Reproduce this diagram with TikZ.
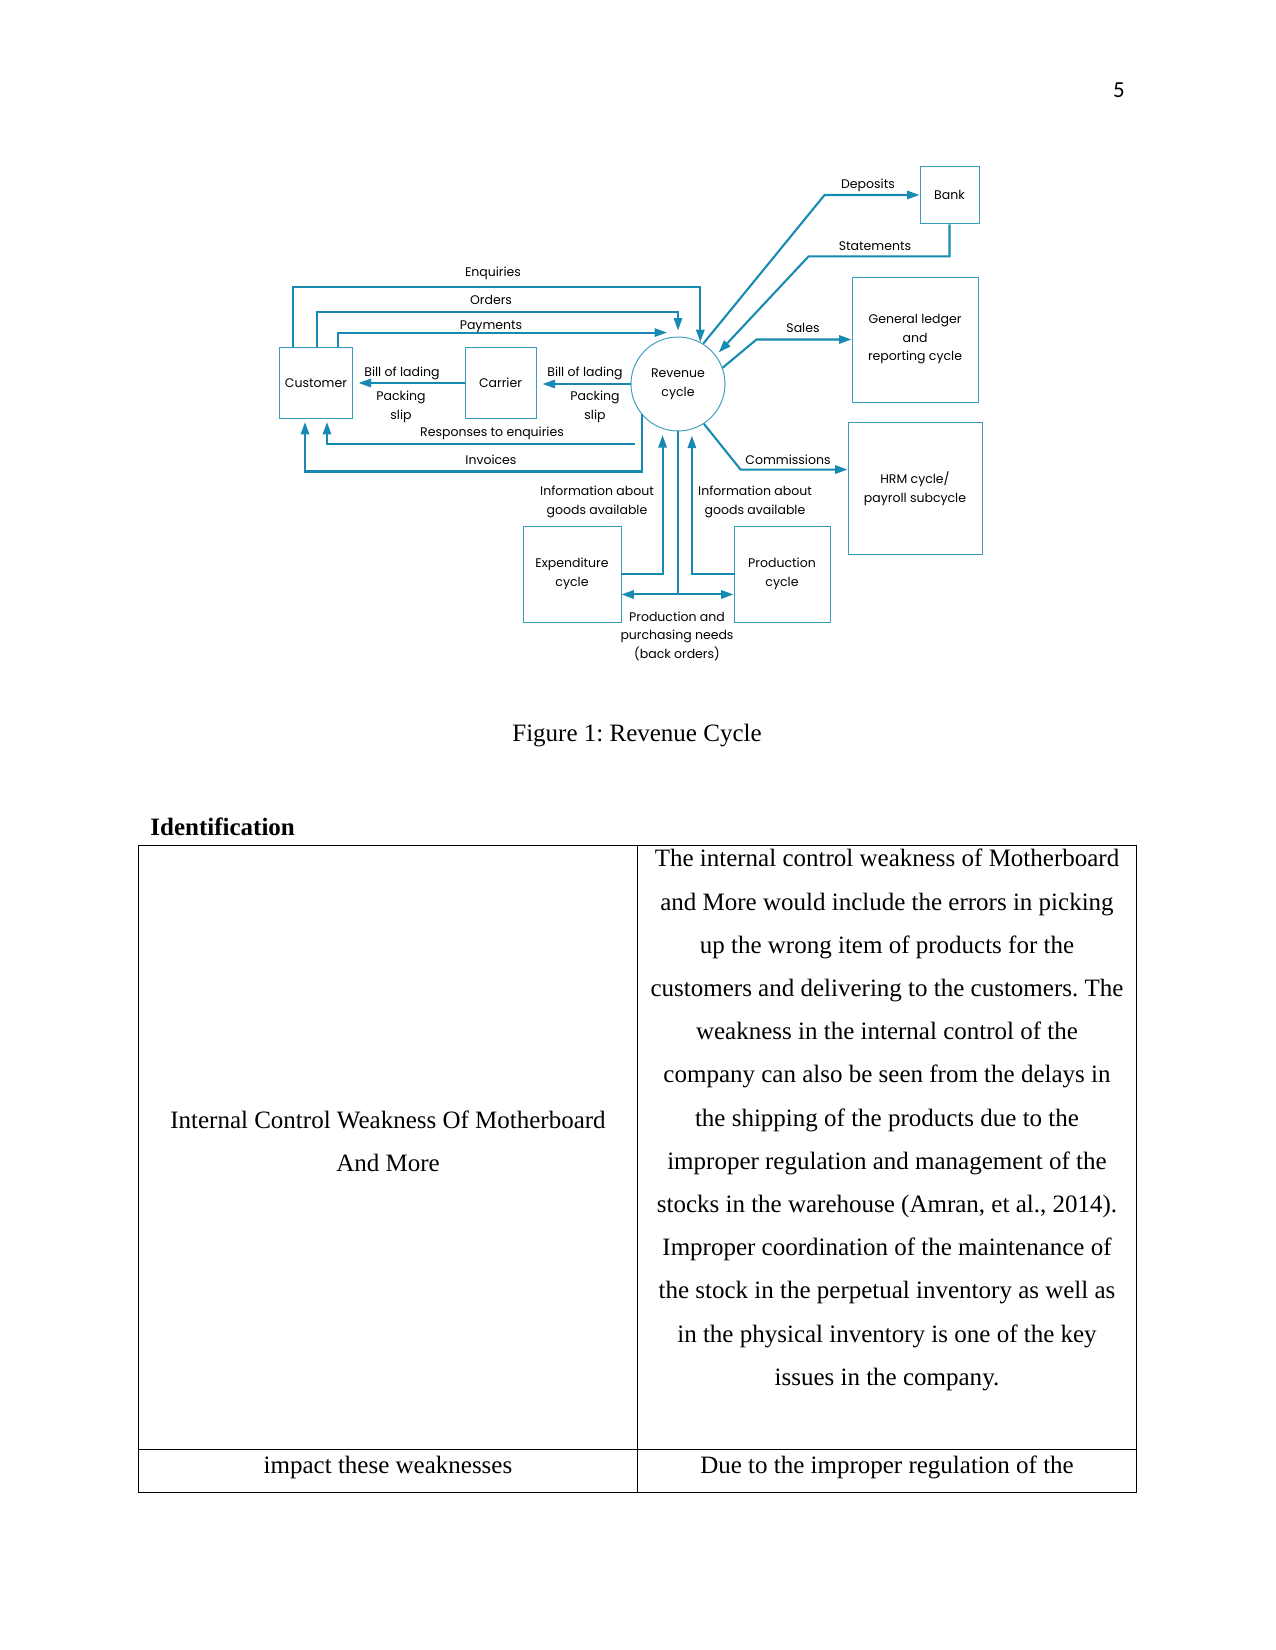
\documentclass[tikz,border=0pt]{standalone}
\usepackage{fontspec}
\setmainfont{Liberation Serif}
\newfontfamily\cycfont{Poppins}
\newfontfamily\numfont{Carlito}
\usetikzlibrary{arrows.meta,calc}
\definecolor{cycblue}{RGB}{22,138,178}
\frenchspacing

\begin{document}
\begin{tikzpicture}[x=0.48pt,y=-0.48pt,
  cycbox/.style={draw=cycblue!85,line width=0.45pt,inner sep=0pt,align=center,
    font=\cycfont\fontsize{6.0}{8.9}\selectfont},
  flow/.style={cycblue,line width=1pt,-{Triangle[length=6pt,width=4pt]}},
  wire/.style={cycblue,line width=1pt},
  lbl/.style={align=center,inner sep=0pt,font=\cycfont\fontsize{6.0}{8.9}\selectfont},
  cell/.style={align=center,inner sep=0pt,font=\fontsize{12}{20.74}\selectfont}]
\useasboundingbox (0,0) rectangle (1275,1650);
\node[font=\numfont\fontsize{11}{13}\selectfont] (pagenum) at (1119,90) {5};

\node[cycbox,minimum width=34.6pt,minimum height=34.1pt] (cust) at (316,383) {Customer};
\node[cycbox,minimum width=34.1pt,minimum height=34.1pt] (carr) at (500.5,383) {Carrier};
\node[cycbox,circle,minimum size=45.1pt] (rev) at (678,384) {Revenue\\cycle};
\node[cycbox,minimum width=28.3pt,minimum height=27.8pt] (bank) at (949.5,195) {Bank};
\node[cycbox,minimum width=60.5pt,minimum height=60pt] (gl) at (915,339.5) {General ledger\\and\\reporting cycle};
\node[cycbox,minimum width=64.3pt,minimum height=63.8pt] (hrm) at (915,488.5) {HRM cycle/\\payroll subcycle};
\node[cycbox,minimum width=47pt,minimum height=46.1pt] (exp) at (572,574) {Expenditure\\cycle};
\node[cycbox,minimum width=46.1pt,minimum height=46.1pt] (prod) at (782,574) {Production\\cycle};

\draw[flow] ($(cust.north)+(-23,0)$) -- ++(0,-60) -| (rev.62);
\draw[flow] ($(cust.north)+(1,0)$) -- ++(0,-35) -| ($(rev.north)+(0,-6)$);
\draw[flow] ($(cust.north)+(22,0)$) |- ($(rev.north)+(-11,-4)$);
\draw[flow,shorten >=2.9pt] (carr.west) -- (cust.east);
\draw[flow,shorten >=2.9pt] (rev.west) -- (rev.west -| carr.east);
\draw[flow] ($(rev.south)+(-43,13)$) -| ($(cust.south)+(11,3)$);
\draw[flow] (rev.220) -- ++(0,57) -| ($(cust.south)+(-11,3)$);
\draw[flow] (rev.58) -- ($(bank.west)+(-95,0)$) -- (bank.west);
\draw[flow,shorten >=2pt] (bank.south) -- ++(0,32) -- ++(-141,0) -- (rev.37);
\draw[flow] (rev.20) -- ($(gl.west)+(-95,0)$) -- (gl.west);
\draw[flow] (rev.-57) -- ($(hrm.north west)+(-107,48)$) -- ($(hrm.north west)+(0,48)$);
\draw[flow,shorten >=3pt] (exp.east) -| (rev.251);
\draw[flow,shorten >=3pt] (prod.west) -| (rev.287);
\draw[wire] (rev.south) -- ++(0,163) coordinate (needs);
\draw[flow] (needs) -- (needs -| exp.east);
\draw[flow] (needs) -- (needs -| prod.west);

\node[lbl] (enqlbl) at (493,273) {Enquiries};
\node[lbl] (ordlbl) at (491,300) {Orders};
\node[lbl] (paylbl) at (491,327) {Payments};
\node[lbl] (bolcust) at (402,373) {Bill of lading};
\node[lbl] (slipcust) at (401,407) {Packing\\slip};
\node[lbl] (bolcarr) at (585,373) {Bill of lading};
\node[lbl] (slipcarr) at (595,407) {Packing\\slip};
\node[lbl] (resplbl) at (492,433) {Responses to enquiries};
\node[lbl] (invlbl) at (491,460) {Invoices};
\node[lbl] (deplbl) at (868,185) {Deposits};
\node[lbl] (stmlbl) at (875,246) {Statements};
\node[lbl] (salelbl) at (803,328) {Sales};
\node[lbl] (commlbl) at (788,460) {Commissions};
\node[lbl] (infoexp) at (597,502) {Information about\\goods available};
\node[lbl] (infoprod) at (755,502) {Information about\\goods available};
\node[lbl] (needlbl) at (677,636) {Production and\\purchasing needs\\(back orders)};

\node[font=\fontsize{12}{14}\selectfont] (caption) at (637,736) {Figure 1: Revenue Cycle};
\node[anchor=west,inner sep=0pt,font=\bfseries\fontsize{12}{14}\selectfont] (ident) at (150,827) {Identification};

\draw[line width=0.45pt] (138,845) rectangle (1136,1492);
\draw[line width=0.45pt] (637,845) -- (637,1492);
\draw[line width=0.45pt] (138,1449) -- (1136,1449);
\node[cell] (weakhead) at (388,1141) {Internal Control Weakness Of Motherboard\\And More};
\node[cell] (weaktext) at (887,1120) {The internal control weakness of Motherboard\\
and More would include the errors in picking\\
up the wrong item of products for the\\
customers and delivering to the customers. The\\
weakness in the internal control of the\\
company can also be seen from the delays in\\
the shipping of the products due to the\\
improper regulation and management of the\\
stocks in the warehouse (Amran, et al., 2014).\\
Improper coordination of the maintenance of\\
the stock in the perpetual inventory as well as\\
in the physical inventory is one of the key\\
issues in the company.};
\node[cell] (impacthead) at (388,1467) {impact these weaknesses};
\node[cell] (impacttext) at (887,1467) {Due to the improper regulation of the};
\end{tikzpicture}
\end{document}
